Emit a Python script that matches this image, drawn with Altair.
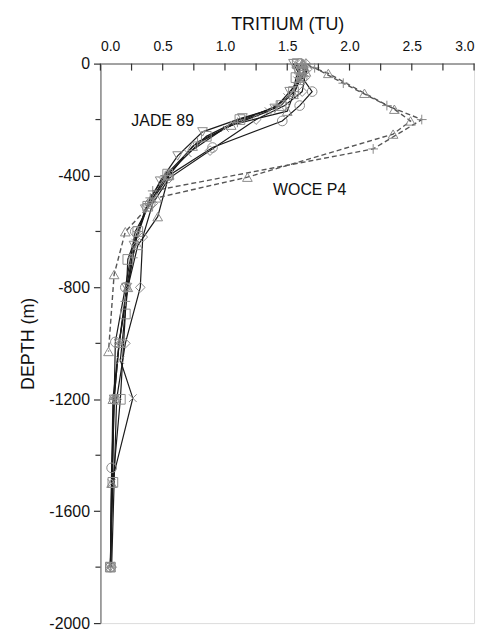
import altair as alt
import pandas as pd

# ---- JADE 89 profiles (tritium TU, depth m) ----
J_CIRCLE_T = [1.60, 1.63, 1.62, 1.70, 1.60, 1.46, 0.90, 0.55, 0.40, 0.28, 0.20, 0.12, 0.11, 0.09, 0.08]
J_CIRCLE_D = [0, -25, -50, -100, -150, -205, -300, -400, -500, -600, -800, -995, -1200, -1445, -1800]

J_SQUARE_T = [1.58, 1.60, 1.57, 1.55, 1.45, 1.12, 0.85, 0.54, 0.38, 0.30, 0.22, 0.20, 0.16, 0.10, 0.08]
J_SQUARE_D = [0, -20, -50, -100, -150, -200, -260, -395, -510, -600, -700, -895, -1200, -1497, -1800]

J_TRIUP_T = [1.63, 1.65, 1.60, 1.55, 1.50, 1.05, 0.74, 0.55, 0.46, 0.30, 0.22, 0.15, 0.10, 0.09, 0.08]
J_TRIUP_D = [0, -30, -60, -110, -170, -220, -295, -400, -547, -650, -800, -1000, -1200, -1500, -1800]

J_TRIDN_T = [1.55, 1.58, 1.62, 1.52, 1.40, 1.14, 0.82, 0.62, 0.48, 0.36, 0.27, 0.21, 0.15, 0.11, 0.08]
J_TRIDN_D = [0, -25, -50, -100, -160, -194, -244, -330, -420, -520, -650, -800, -1000, -1200, -1800]

J_DIAMOND_T = [1.65, 1.66, 1.64, 1.62, 1.48, 1.25, 0.88, 0.55, 0.42, 0.34, 0.32, 0.20, 0.13, 0.09]
J_DIAMOND_D = [0, -20, -50, -100, -150, -200, -311, -410, -500, -620, -800, -1000, -1200, -1800]

J_X_T = [1.57, 1.60, 1.58, 1.50, 1.35, 1.00, 0.70, 0.50, 0.37, 0.28, 0.22, 0.16, 0.26, 0.09, 0.08]
J_X_D = [0, -30, -60, -120, -170, -230, -320, -420, -520, -640, -800, -1060, -1196, -1500, -1795]

J_PLUS_T = [1.62, 1.64, 1.60, 1.56, 1.42, 1.10, 0.78, 0.52, 0.40, 0.30, 0.26, 0.20, 0.15, 0.11, 0.08]
J_PLUS_D = [0, -25, -50, -100, -150, -210, -280, -400, -480, -600, -694, -850, -1000, -1200, -1800]

# ---- WOCE P4 profiles ----
W_TRI_T = [1.62, 1.83, 2.12, 2.36, 2.49, 2.35, 1.18, 0.45, 0.20, 0.11, 0.065]
W_TRI_D = [0, -35, -106, -163, -205, -252, -406, -480, -601, -754, -1029]

W_PLUS_T = [1.65, 1.72, 1.95, 2.30, 2.58, 2.19, 0.42, 0.38]
W_PLUS_D = [0, -15, -70, -150, -200, -305, -455, -500]

# ---- axes / annotations ----
X_TICKS = [0.0, 0.5, 1.0, 1.5, 2.0, 2.5, 3.0]
X_MINOR = [0.0, 0.25, 0.5, 0.75, 1.0, 1.25, 1.5, 1.75, 2.0, 2.25, 2.5, 2.75, 3.0]
Y_TICKS = [0, -400, -800, -1200, -1600, -2000]
Y_MINOR = [-200, -600, -1000, -1400, -1800]
LABELS = ["JADE 89", "WOCE P4"]
LABEL_T = [0.5, 1.68]
LABEL_D = [-205, -453]

profiles = [
    ("J circle", "JADE", J_CIRCLE_T, J_CIRCLE_D),
    ("J square", "JADE", J_SQUARE_T, J_SQUARE_D),
    ("J triup", "JADE", J_TRIUP_T, J_TRIUP_D),
    ("J tridn", "JADE", J_TRIDN_T, J_TRIDN_D),
    ("J diamond", "JADE", J_DIAMOND_T, J_DIAMOND_D),
    ("J x", "JADE", J_X_T, J_X_D),
    ("J plus", "JADE", J_PLUS_T, J_PLUS_D),
    ("W tri", "WOCE", W_TRI_T, W_TRI_D),
    ("W plus", "WOCE", W_PLUS_T, W_PLUS_D),
]
rows = []
for name, cruise, ts, ds in profiles:
    for i, (t, d) in enumerate(zip(ts, ds)):
        rows.append({"profile": name, "cruise": cruise, "i": i, "t": t, "d": d})
df = pd.DataFrame(rows)

shape_domain = [p[0] for p in profiles]
PLUS = "M-1,0L1,0M0,-1L0,1"
XSYM = "M-0.8,-0.8L0.8,0.8M-0.8,0.8L0.8,-0.8"
shape_range = ["circle", "square", "triangle-up", "triangle-down", "diamond", XSYM, PLUS,
               "triangle-up", PLUS]

xs = alt.Scale(domain=[0, 3], nice=False)
ys = alt.Scale(domain=[-2000, 0], nice=False)

FONT = "Liberation Sans"

base = alt.Chart(df)

xenc = alt.X("t:Q", scale=xs,
             axis=alt.Axis(orient="top", values=X_TICKS, format=".1f", title="TRITIUM (TU)",
                           grid=False, ticks=False, tickSize=0, labelPadding=10,
                           labelFontSize=14, labelFont=FONT, labelColor="#111",
                           titleFont=FONT, titleFontSize=18, titleFontWeight="normal",
                           titlePadding=6, titleColor="#111",
                           domainColor="#888", domainWidth=1.5))
yenc = alt.Y("d:Q", scale=ys,
             axis=alt.Axis(orient="left", values=Y_TICKS, title="DEPTH (m)",
                           labelExpr="'' + datum.value",
                           grid=False, tickSize=7, tickColor="#333", tickWidth=1.2,
                           labelPadding=4, labelFontSize=16, labelFont=FONT, labelColor="#111",
                           titleFont=FONT, titleFontSize=18, titleFontWeight="normal",
                           titlePadding=11, titleColor="#111",
                           domainColor="#888", domainWidth=1.5))

jade_lines = base.transform_filter(alt.datum.cruise == "JADE").mark_line(
    color="#1a1a1a", strokeWidth=1.2
).encode(x=xenc, y=yenc, detail="profile:N", order="i:Q")

woce_lines = base.transform_filter(alt.datum.cruise == "WOCE").mark_line(
    color="#555", strokeWidth=1.4, strokeDash=[5, 3]
).encode(x="t:Q", y="d:Q", detail="profile:N", order="i:Q")

points = base.mark_point(filled=False, color="#8a8a8a", strokeWidth=1, size=95, opacity=1).encode(
    x="t:Q", y="d:Q",
    shape=alt.Shape("profile:N", scale=alt.Scale(domain=shape_domain, range=shape_range), legend=None),
)

xminor = alt.Chart(pd.DataFrame({"v": X_MINOR})).mark_rule(color="#333", strokeWidth=1.2).encode(
    x=alt.X("v:Q", scale=xs), y=alt.value(0), y2=alt.value(7)
)
yminor = alt.Chart(pd.DataFrame({"v": Y_MINOR})).mark_rule(color="#333", strokeWidth=1.2).encode(
    y=alt.Y("v:Q", scale=ys), x=alt.value(-5), x2=alt.value(0)
)

labels = alt.Chart(pd.DataFrame({"lab": LABELS, "t": LABEL_T, "d": LABEL_D})).mark_text(
    font=FONT, fontSize=16, color="#111", align="center", baseline="middle"
).encode(x=alt.X("t:Q", scale=xs), y=alt.Y("d:Q", scale=ys), text="lab:N")

chart = alt.layer(jade_lines, woce_lines, points, xminor, yminor, labels).properties(
    width=376, height=563,
    autosize=alt.AutoSizeParams(type="none"),
    padding={"left": 93, "top": 54, "right": 10, "bottom": 7},
).configure_view(stroke=None).configure(background="white")

chart.save("out.html", embed_options={"renderer": "svg", "actions": False})
